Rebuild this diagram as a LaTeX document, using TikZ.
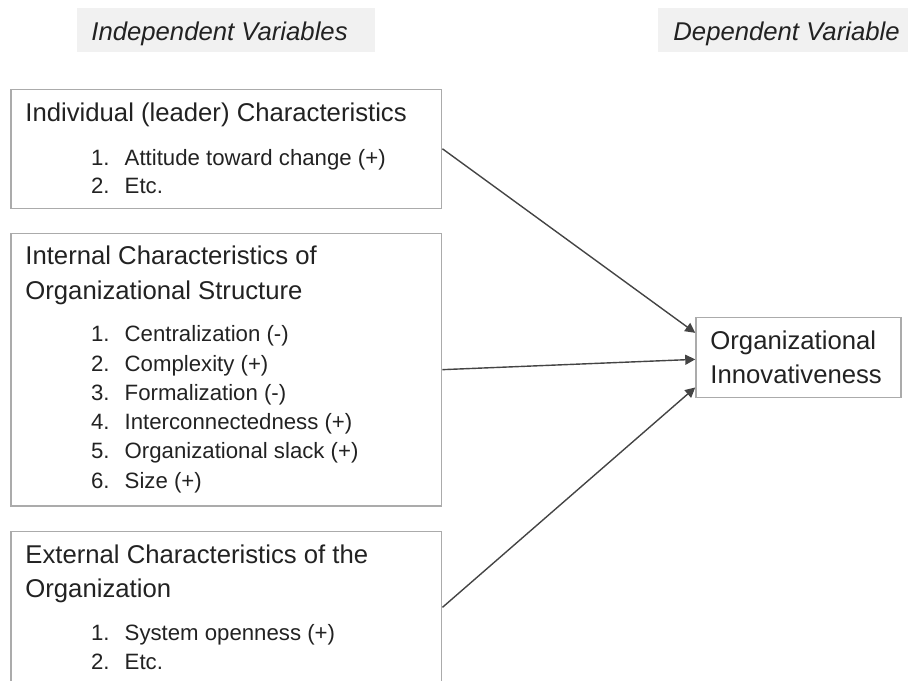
\documentclass[tikz,border=0pt]{standalone}
\usepackage{fontspec}
\setmainfont{Liberation Sans}
\usetikzlibrary{arrows.meta,fit,calc}
\definecolor{inkc}{HTML}{222222}
\definecolor{framec}{HTML}{ABABAB}
\definecolor{linkc}{HTML}{444444}
\definecolor{headc}{HTML}{F1F1F1}
\tikzset{
  frame/.style={draw=framec, line width=0.75pt, inner sep=0pt},
  headbg/.style={fill=headc, draw=none, inner sep=0pt},
  bigtxt/.style={anchor=base west, inner sep=0pt, text=inkc, font=\fontsize{12.85pt}{15pt}\selectfont},
  headtxt/.style={bigtxt, font=\fontsize{12.85pt}{15pt}\selectfont\itshape},
  itemtxt/.style={anchor=base west, inner sep=0pt, text=inkc, font=\fontsize{11.1pt}{13pt}\selectfont},
  link/.style={draw=linkc, line width=0.7pt, -{Triangle[length=5pt,width=5pt]}}
}
\begin{document}
\begin{tikzpicture}[x=0.5pt,y=-0.5pt]
\useasboundingbox (0,0) rectangle (908,680);

% column headings
\node[headbg, fit={(76.7,8.3) (375,52.3)}] (hbgL) {};
\node[headbg, fit={(658.3,8.3) (912,52.3)}] (hbgR) {};
\node[headtxt] (hL) at (91,40) {Independent Variables};
\node[headtxt] (hR) at (673,40) {Dependent Variable};

% independent variable groups
\node[frame, fit={(11,89.3) (441.7,208.3)}] (b1) {};
\node[frame, fit={(11,233.3) (441.7,506)}] (b2) {};
\node[frame, fit={(11,531.7) (441.7,683)}] (b3) {};

\node[bigtxt] (t1) at (25,121) {Individual (leader) Characteristics};
\node[itemtxt] (n11) at (90.7,165) {1.};
\node[itemtxt] (i11) at (124.3,165) {Attitude toward change (+)};
\node[itemtxt] (n12) at (90.7,193.5) {2.};
\node[itemtxt] (i12) at (124.3,193.5) {Etc.};

\node[bigtxt] (t2a) at (25,264.3) {Internal Characteristics of};
\node[bigtxt] (t2b) at (25,299.5) {Organizational Structure};
\node[itemtxt] (n21) at (90.7,341.7) {1.};
\node[itemtxt] (i21) at (124.3,341.7) {Centralization (-)};
\node[itemtxt] (n22) at (90.7,371) {2.};
\node[itemtxt] (i22) at (124.3,371) {Complexity (+)};
\node[itemtxt] (n23) at (90.7,400.3) {3.};
\node[itemtxt] (i23) at (124.3,400.3) {Formalization (-)};
\node[itemtxt] (n24) at (90.7,429.6) {4.};
\node[itemtxt] (i24) at (124.3,429.6) {Interconnectedness (+)};
\node[itemtxt] (n25) at (90.7,458.9) {5.};
\node[itemtxt] (i25) at (124.3,458.9) {Organizational slack (+)};
\node[itemtxt] (n26) at (90.7,488.2) {6.};
\node[itemtxt] (i26) at (124.3,488.2) {Size (+)};

\node[bigtxt] (t3a) at (25,563.3) {External Characteristics of the};
\node[bigtxt] (t3b) at (25,597.7) {Organization};
\node[itemtxt] (n31) at (90.7,640) {1.};
\node[itemtxt] (i31) at (124.3,640) {System openness (+)};
\node[itemtxt] (n32) at (90.7,669.3) {2.};
\node[itemtxt] (i32) at (124.3,669.3) {Etc.};

% dependent variable
\node[frame, fit={(696,317.3) (901,397.3)}] (dv) {};
\node[bigtxt] (dva) at (710,349.3) {Organizational};
\node[bigtxt] (dvb) at (710,383.3) {Innovativeness};

% effects
\draw[link] (b1.east) -- ($(dv.north west)!0.2!(dv.south west)$);
\draw[link] (b2.east) -- ($(dv.north west)!0.525!(dv.south west)$);
\draw[link] (b3.east) -- ($(dv.north west)!0.87!(dv.south west)$);
\end{tikzpicture}
\end{document}
